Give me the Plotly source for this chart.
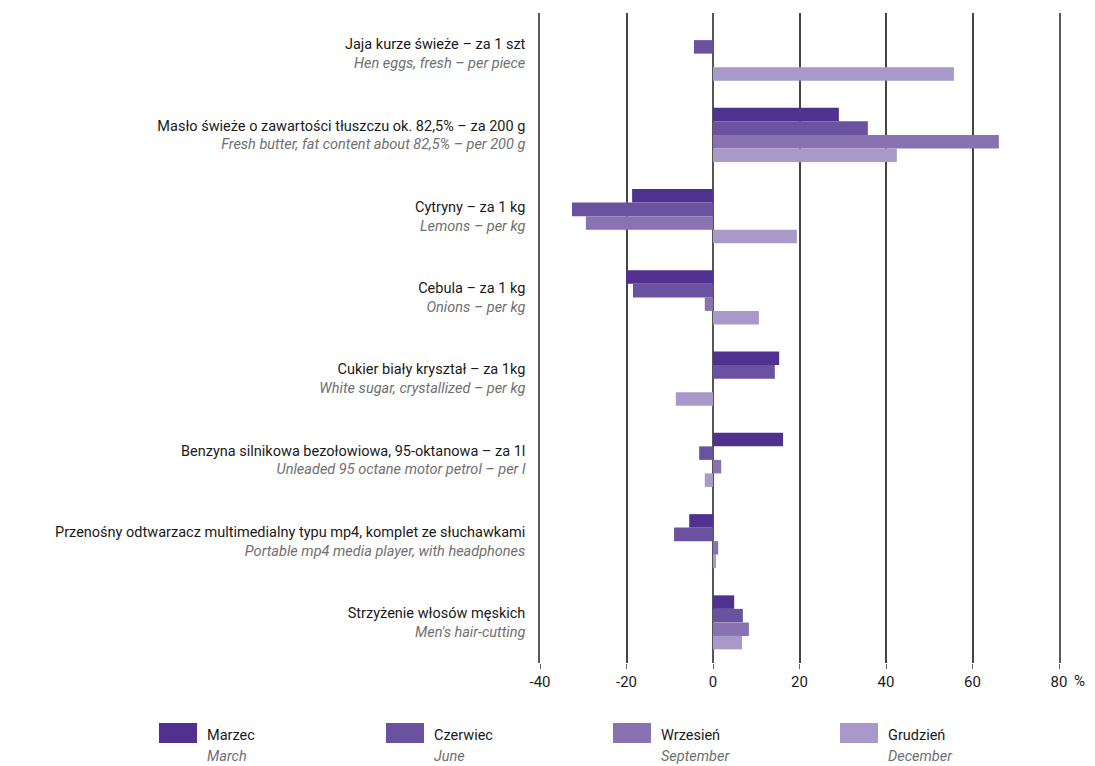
import plotly.graph_objects as go

FONT = "Roboto, sans-serif"

CATEGORIES_PL = [
    "Jaja kurze świeże – za 1 szt",
    "Masło świeże o zawartości tłuszczu ok. 82,5% – za 200 g",
    "Cytryny – za 1 kg",
    "Cebula – za 1 kg",
    "Cukier biały kryształ – za 1kg",
    "Benzyna silnikowa bezołowiowa, 95-oktanowa – za 1l",
    "Przenośny odtwarzacz multimedialny typu mp4, komplet ze słuchawkami",
    "Strzyżenie włosów męskich",
]
CATEGORIES_EN = [
    "Hen eggs, fresh – per piece",
    "Fresh butter, fat content about 82,5% – per 200 g",
    "Lemons – per kg",
    "Onions – per kg",
    "White sugar, crystallized – per kg",
    "Unleaded 95 octane motor petrol – per l",
    "Portable mp4 media player, with headphones",
    "Men's hair-cutting",
]

SERIES_PL = ["Marzec", "Czerwiec", "Wrzesień", "Grudzień"]
SERIES_EN = ["March", "June", "September", "December"]
COLORS = ["#51318f", "#6b52a1", "#8872b2", "#a899c8"]

MARZEC = [None, 29.1, -18.7, -20.1, 15.3, 16.2, -5.5, 4.9]
CZERWIEC = [-4.4, 35.8, -32.6, -18.5, 14.3, -3.2, -9.0, 6.9]
WRZESIEN = [None, 66.1, -29.4, -1.9, None, 1.9, 1.2, 8.3]
GRUDZIEN = [55.7, 42.5, 19.4, 10.6, -8.6, -1.9, 0.7, 6.7]
VALUES = [MARZEC, CZERWIEC, WRZESIEN, GRUDZIEN]

X_TICKS = [-40, -20, 0, 20, 40, 60, 80]
X_TICK_LABELS = ["-40", "-20", "0", "20", "40", "60", "80"]

# page is offset by the body margin, so work in page pixels and convert
OFF = 8
W, H = 1087, 758
L, R, T, B = 540 - OFF, W - (1059 - OFF), 13 - OFF, H - (663 - OFF)
PW, PH = W - L - R, H - T - B
SIZE = 14.5
GREY = "#6f6f6f"
GRID = "#444444"


def px_x(px):
    return (px - OFF - L) / PW


def px_y(py):
    return (H - B - (py - OFF)) / PH


ticktext = [
    f"{pl}<br><i><span style='color:{GREY}'>{en}</span></i>"
    for pl, en in zip(CATEGORIES_PL, CATEGORIES_EN)
]

fig = go.Figure()
for name, vals, color in zip(SERIES_PL, VALUES, COLORS):
    fig.add_trace(
        go.Bar(
            y=CATEGORIES_PL,
            x=vals,
            name=name,
            orientation="h",
            marker={"color": color, "line": {"width": 0}},
        )
    )

fig.update_layout(
    width=W,
    height=H,
    barmode="group",
    bargap=0.335,
    bargroupgap=0,
    showlegend=False,
    plot_bgcolor="white",
    paper_bgcolor="white",
    font={"family": FONT, "size": SIZE, "color": "#1a1a1a"},
    margin={"l": L, "r": R, "t": T, "b": B, "pad": 0, "autoexpand": False},
)
fig.update_xaxes(
    range=[-40, 80],
    tickvals=X_TICKS,
    ticktext=X_TICK_LABELS,
    showgrid=True,
    gridcolor=GRID,
    gridwidth=1.5,
    zeroline=True,
    zerolinecolor="#555555",
    zerolinewidth=2,
    ticks="outside",
    ticklen=5,
    tickcolor="#666666",
    showline=False,
    automargin=False,
    tickfont={"size": 15, "color": "#1a1a1a"},
)
# the edge gridlines (-40 and 80) come from the mirrored y axis line
fig.update_yaxes(
    autorange="reversed",
    tickvals=CATEGORIES_PL,
    ticktext=ticktext,
    showgrid=False,
    showline=True,
    mirror=True,
    linecolor="#5a5a5a",
    linewidth=1.5,
    ticks="",
    ticklabelstandoff=10,
    automargin=False,
    tickfont={"size": SIZE, "color": "#1a1a1a"},
)

fig.add_annotation(
    x=px_x(1073), y=px_y(681), xref="paper", yref="paper",
    xanchor="left", yanchor="middle", borderpad=0,
    text="%", showarrow=False, font={"size": 15, "color": "#1a1a1a"},
)

# legend drawn manually to get the wide swatches
for i, (pl, en, color) in enumerate(zip(SERIES_PL, SERIES_EN, COLORS)):
    x0 = 159 + i * 227
    fig.add_shape(
        type="rect", xref="paper", yref="paper",
        x0=px_x(x0), x1=px_x(x0 + 38), y0=px_y(743), y1=px_y(723),
        fillcolor=color, line={"width": 0},
    )
    fig.add_annotation(
        x=px_x(x0 + 46), y=px_y(735), xref="paper", yref="paper",
        xanchor="left", yanchor="middle", showarrow=False,
        text=pl, font={"size": SIZE, "color": "#1a1a1a"},
    )
    fig.add_annotation(
        x=px_x(x0 + 46), y=px_y(756), xref="paper", yref="paper",
        xanchor="left", yanchor="middle", showarrow=False,
        text=f"<i>{en}</i>", font={"size": SIZE, "color": GREY},
    )

fig.write_html("out.html")
